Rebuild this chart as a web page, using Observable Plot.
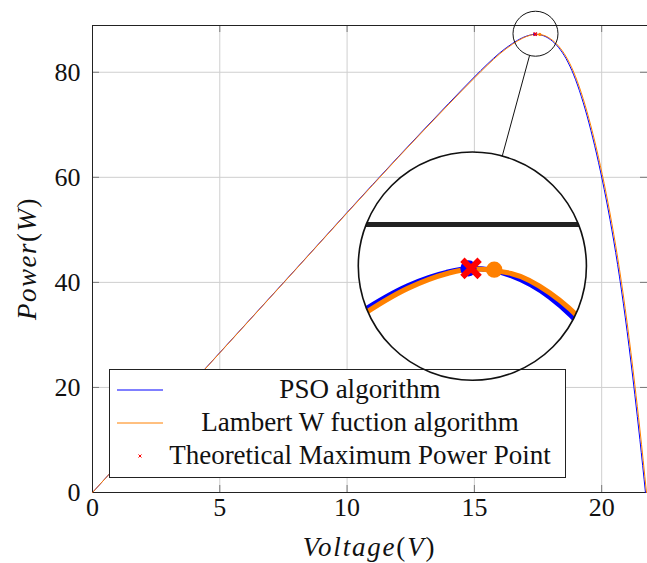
<!DOCTYPE html>
<html><head><meta charset="utf-8">
<script src="https://cdn.jsdelivr.net/npm/d3@7"></script>
<script src="https://cdn.jsdelivr.net/npm/@observablehq/plot@0.6"></script>
<style>body{margin:0;background:#fff} svg{display:block}</style>
</head><body><div id="chart"></div>
<script>
// ---- data ----
const psoVoltage = [0,2,4,6,8,10,11,12,13,14,15,15.5,16,16.5,16.9,17.2,17.4,17.7,18.0,18.3,18.6,18.9,19.2,19.5,19.8,20.1,20.4,20.7,21.0,21.3,21.5,21.72];
const psoPower   = [0,10.66,21.3,31.95,42.6,53.3,58.6,63.85,69.0,74.1,79.1,81.5,83.7,85.5,86.6,87.1,87.25,86.98,86.17,84.76,82.6,79.51,75.4,70.35,64.45,57.7,49.98,41.05,30.63,18.7,10.1,0];
const lambertVoltage = [0,2,4,6,8,10,11,12,13,14,15,15.5,16,16.5,16.9,17.2,17.4,17.7,18.0,18.3,18.6,18.9,19.2,19.5,19.8,20.1,20.4,20.7,21.0,21.3,21.5,21.76];
const lambertPower   = [0,10.64,21.26,31.9,42.54,53.22,58.5,63.75,68.88,73.95,78.9,81.3,83.52,85.35,86.5,87.05,87.23,87.06,86.33,85.02,82.99,80.05,76.09,71.17,65.4,58.78,51.22,42.49,32.32,20.59,12.08,0];
const psoMpp = [17.37, 87.25];
const lambertMpp = [17.57, 87.2];
const theoreticalMpp = [17.39, 87.25];
const xTicks = [0,5,10,15,20];
const yTicks = [0,20,40,60,80];
const legendLabels = ["PSO algorithm","Lambert W fuction algorithm","Theoretical Maximum Power Point"];
const xLabel = ["Voltage","V"];
const yLabel = ["Power","W"];
const spyCenter = [17.42, 87.24];   // magnified spot (data units)
const lensCenter = [14.94, 43.0];   // lens position (data units)

// ---- layout ----
const W = 647, H = 563, mL = 92, mR = 0, mT = 25, mB = 71;
const innerW = W - mL - mR, innerH = H - mT - mB;
const serif = "Liberation Serif, Tinos, Times New Roman, DejaVu Serif, Noto Serif, serif";
const BLUE = "#0000ff", ORANGE = "#ff8000", RED = "#ff0000";

const pso = psoVoltage.map((v,i)=>({v, p: psoPower[i]}));
const lambert = lambertVoltage.map((v,i)=>({v, p: lambertPower[i]}));

const svg = Plot.plot({
  width: W, height: H, marginLeft: mL, marginRight: mR, marginTop: mT, marginBottom: mB,
  style: {fontFamily: serif, fontSize: "26px", background: "white", overflow: "visible", color: "#111"},
  x: {domain: [0, 21.8]},
  y: {domain: [0, 88.9]},
  marks: [
    Plot.gridX(xTicks, {stroke: "#cfcfcf", strokeOpacity: 1, strokeWidth: 1}),
    Plot.gridY(yTicks, {stroke: "#cfcfcf", strokeOpacity: 1, strokeWidth: 1}),
    Plot.ruleX(xTicks, {stroke: "#7a7a7a", insetTop: innerH - 7}),
    Plot.ruleX(xTicks, {stroke: "#7a7a7a", insetBottom: innerH - 7}),
    Plot.ruleY(yTicks, {stroke: "#7a7a7a", insetRight: innerW - 7}),
    Plot.ruleY(yTicks, {stroke: "#7a7a7a", insetLeft: innerW - 7}),
    Plot.ruleX([0], {stroke: "#222", strokeWidth: 1}),
    Plot.ruleY([0, 88.9], {stroke: "#222", strokeWidth: 1}),
    Plot.line(pso, {x: "v", y: "p", stroke: BLUE, strokeWidth: 1, curve: "monotone-x"}),
    Plot.line(lambert, {x: "v", y: "p", stroke: ORANGE, strokeWidth: 1, curve: "monotone-x"}),
    Plot.dot([psoMpp], {x: d => d[0], y: d => d[1], r: 1.6, fill: BLUE}),
    Plot.dot([lambertMpp], {x: d => d[0], y: d => d[1], r: 1.6, fill: ORANGE}),
    Plot.dot([theoreticalMpp], {x: d => d[0], y: d => d[1], symbol: "times", r: 1.7, stroke: RED, strokeWidth: 1.2}),
    Plot.axisX(xTicks, {tickSize: 0, tickPadding: 5, fontSize: 26, label: null}),
    Plot.axisY(yTicks, {tickSize: 0, tickPadding: 12, fontSize: 26, label: null})
  ]
});
document.getElementById("chart").appendChild(svg);

const xs = svg.scale("x"), ys = svg.scale("y");
const root = d3.select(svg);

// ---- magnifier (spy) ----
const spyX = xs.apply(spyCenter[0]), spyY = ys.apply(spyCenter[1]);
const lensX = xs.apply(lensCenter[0]), lensY = ys.apply(lensCenter[1]);
const spyR = 22.5, mag = 5.07, lensR = spyR * mag;
const clones = Array.from(svg.children)
  .filter(n => n.tagName.toLowerCase() !== "style" && !n.querySelector("text") && n.tagName.toLowerCase() !== "text")
  .map(n => n.cloneNode(true));
root.append("defs").append("clipPath").attr("id", "spyclip")
  .append("circle").attr("cx", spyX).attr("cy", spyY).attr("r", spyR);
const lens = root.append("g");
lens.append("circle").attr("cx", lensX).attr("cy", lensY).attr("r", lensR).attr("fill", "white");
const mg = lens.append("g")
  .attr("clip-path", "url(#spyclip)")
  .attr("transform", `translate(${lensX},${lensY}) scale(${mag}) translate(${-spyX},${-spyY})`);
clones.forEach(n => mg.node().appendChild(n));

// ---- legend ----
const lg = root.append("g").attr("font-family", serif).attr("font-size", 27);
lg.append("rect").attr("x", 109.5).attr("y", 369.5).attr("width", 456).attr("height", 108)
  .attr("fill", "white").attr("stroke", "#222").attr("stroke-width", 1);
const rowY = [390, 423, 456];
lg.append("line").attr("x1", 117).attr("x2", 163).attr("y1", rowY[0]).attr("y2", rowY[0]).attr("stroke", BLUE).attr("stroke-width", 1);
lg.append("line").attr("x1", 117).attr("x2", 163).attr("y1", rowY[1]).attr("y2", rowY[1]).attr("stroke", ORANGE).attr("stroke-width", 1);
lg.append("path").attr("d", `M${138.5},${rowY[2]-1.5}L${141.5},${rowY[2]+1.5}M${138.5},${rowY[2]+1.5}L${141.5},${rowY[2]-1.5}`)
  .attr("stroke", RED).attr("stroke-width", 1);
legendLabels.forEach((t, i) => {
  lg.append("text").attr("x", 360).attr("y", rowY[i] + 7.5).attr("text-anchor", "middle").attr("fill", "#111").text(t);
});

// ---- lens outlines & connector ----
const dx = lensX - spyX, dy = lensY - spyY, dl = Math.hypot(dx, dy);
const ux = dx / dl, uy = dy / dl;
root.append("line")
  .attr("x1", spyX + ux * spyR).attr("y1", spyY + uy * spyR)
  .attr("x2", lensX - ux * lensR).attr("y2", lensY - uy * lensR)
  .attr("stroke", "#111").attr("stroke-width", 1);
root.append("circle").attr("cx", spyX).attr("cy", spyY).attr("r", spyR)
  .attr("fill", "none").attr("stroke", "#111").attr("stroke-width", 1);
root.append("circle").attr("cx", lensX).attr("cy", lensY).attr("r", lensR)
  .attr("fill", "none").attr("stroke", "#111").attr("stroke-width", 1.6);

// ---- axis titles ----
const xt = root.append("text").attr("x", mL + innerW / 2).attr("y", 556).attr("text-anchor", "middle")
  .attr("font-family", serif).attr("font-size", 27).attr("letter-spacing", "1.8px").attr("fill", "#111");
xt.append("tspan").attr("font-style", "italic").text(xLabel[0]);
xt.append("tspan").text("(");
xt.append("tspan").attr("font-style", "italic").text(xLabel[1]);
xt.append("tspan").text(")");
const yt = root.append("text").attr("transform", `translate(36,${mT + innerH / 2}) rotate(-90)`).attr("text-anchor", "middle")
  .attr("font-family", serif).attr("font-size", 27).attr("letter-spacing", "1.5px").attr("fill", "#111");
yt.append("tspan").attr("font-style", "italic").text(yLabel[0]);
yt.append("tspan").text("(");
yt.append("tspan").attr("font-style", "italic").text(yLabel[1]);
yt.append("tspan").text(")");
</script>
</body></html>
